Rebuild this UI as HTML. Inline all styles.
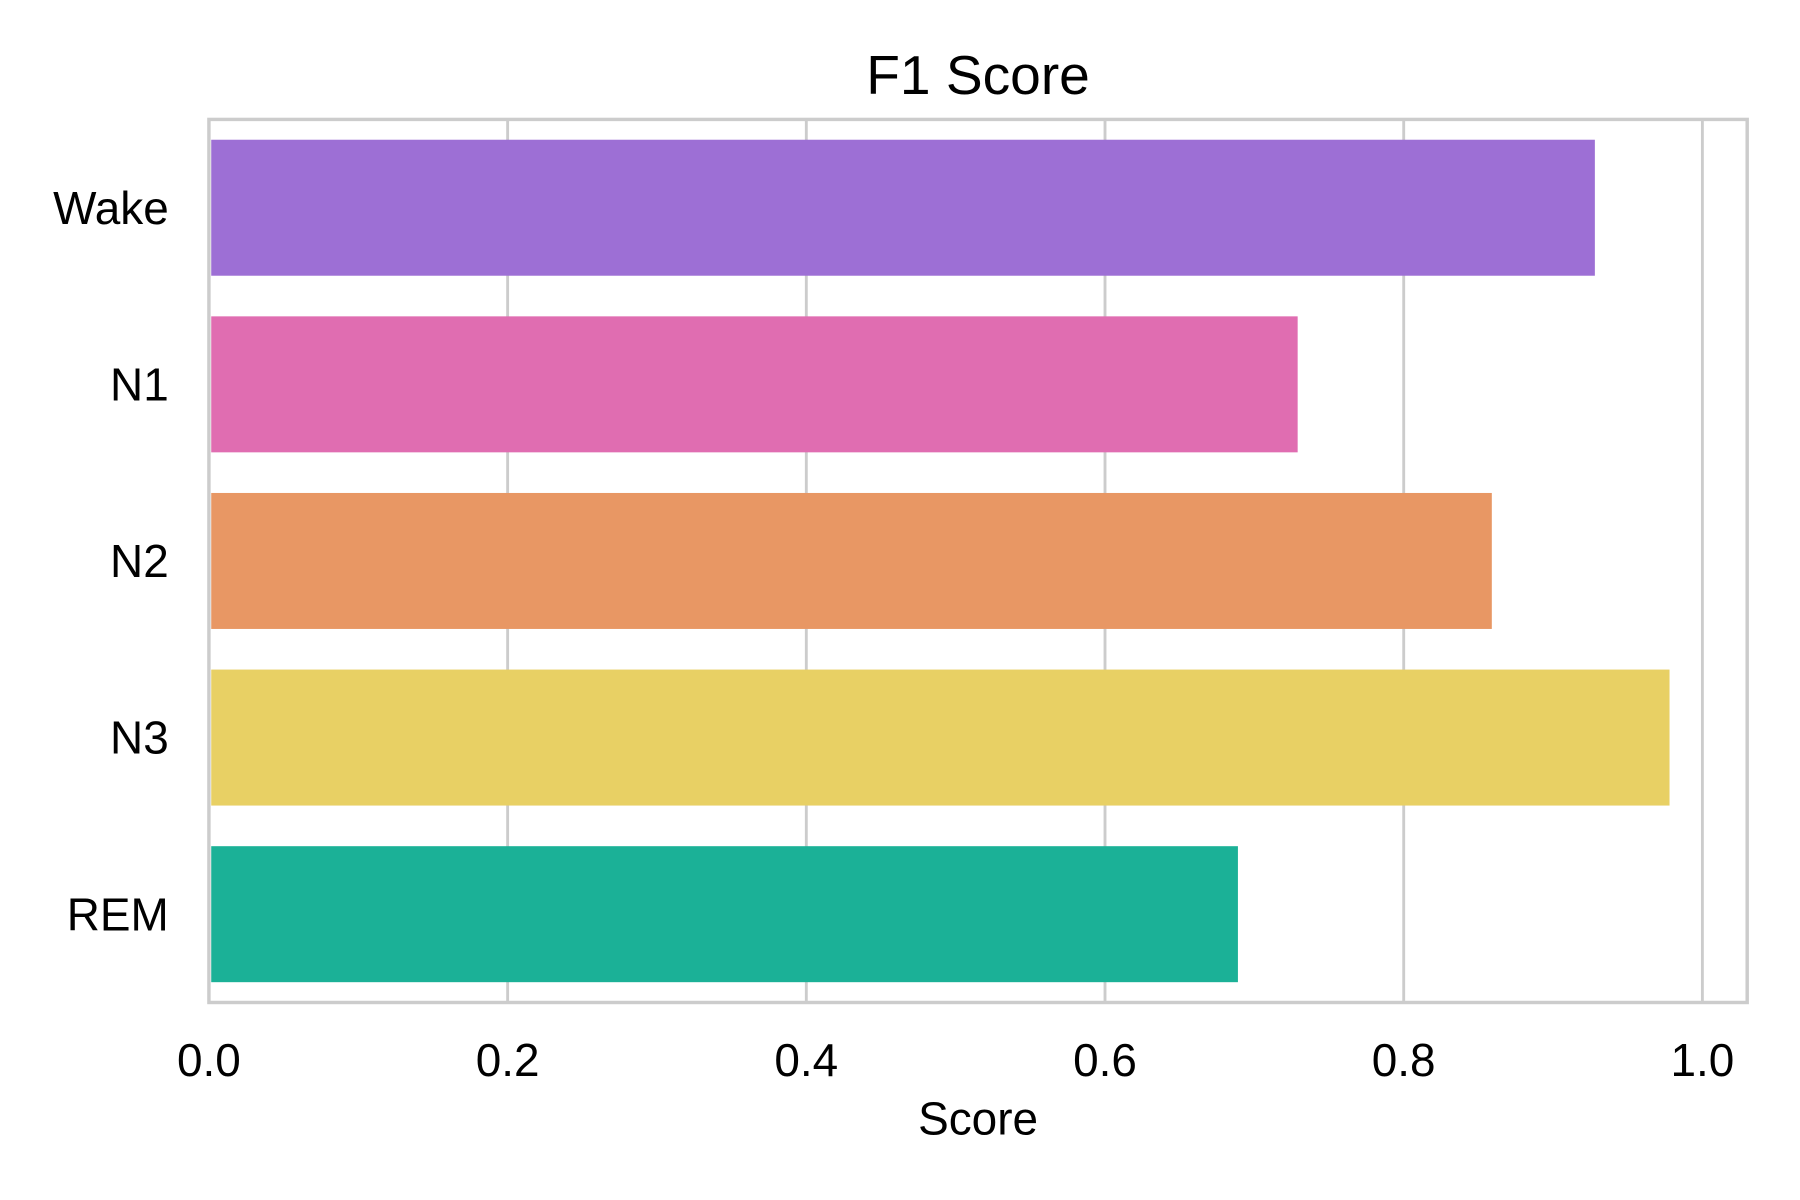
<!DOCTYPE html>
<html><head><meta charset="utf-8"><style>
html,body{margin:0;padding:0;background:#fff;}
svg{display:block;font-family:"Liberation Sans",Arial,sans-serif;}
</style></head><body>
<svg id="chart" width="1800" height="1200" viewBox="0 0 1568 1045" preserveAspectRatio="none" xmlns="http://www.w3.org/2000/svg">
<rect width="1568" height="1045" fill="#fff"/>
<g id="grid"></g>
<g id="bars"></g>
<rect x="182" y="104" width="1340" height="769" fill="none" stroke="#cccccc" stroke-width="3"/>
<g id="labels" font-size="40" fill="#000"></g>
<text x="852" y="82" font-size="48" text-anchor="middle">F1 Score</text>
<text x="852" y="988" font-size="40" text-anchor="middle">Score</text>
</svg>
<script>
const categories = ["Wake","N1","N2","N3","REM"];
const scores = [0.928, 0.729, 0.859, 0.978, 0.689];
const barColors = ["#9d6fd5","#e06db1","#e89764","#e8d064","#1bb197"];
const xTicks = [0, 0.2, 0.4, 0.6, 0.8, 1.0];
const xTickLabels = ["0.0","0.2","0.4","0.6","0.8","1.0"];

const NS = "http://www.w3.org/2000/svg";
const pLeft = 182, pRight = 1522, pTop = 104, pBottom = 873;
const xMax = 1.03;
const xs = v => pLeft + v / xMax * (pRight - pLeft);
const band = (pBottom - pTop) / categories.length;
const yc = i => pTop + band * (i + 0.5);

const grid = document.getElementById('grid');
xTicks.forEach(function (t) {
  const l = document.createElementNS(NS, 'line');
  
  
  l.setAttribute('x1', xs(t)); l.setAttribute('x2', xs(t));
  l.setAttribute('y1', pTop); l.setAttribute('y2', pBottom);
  l.setAttribute('stroke', '#cccccc'); l.setAttribute('stroke-width', '2.5');
  grid.appendChild(l);
});

const bars = document.getElementById('bars');
categories.forEach(function (c, i) {
  const r = document.createElementNS(NS, 'rect');
  
  
  const h = band * 0.77;
  r.setAttribute('x', xs(0) + 2);
  r.setAttribute('y', yc(i) - h / 2);
  r.setAttribute('width', xs(scores[i]) - xs(0) - 2);
  r.setAttribute('height', h);
  r.setAttribute('fill', barColors[i]);
  bars.appendChild(r);
});

const labels = document.getElementById('labels');
categories.forEach(function (c, i) {
  const t = document.createElementNS(NS, 'text');
  
  
  t.setAttribute('x', 147); t.setAttribute('y', yc(i) + 14);
  t.setAttribute('text-anchor', 'end');
  t.textContent = c;
  labels.appendChild(t);
});
xTicks.forEach(function (v, i) {
  const t = document.createElementNS(NS, 'text');
  
  
  t.setAttribute('x', xs(v)); t.setAttribute('y', 937);
  t.setAttribute('text-anchor', 'middle');
  t.textContent = xTickLabels[i];
  labels.appendChild(t);
});
</script>
</body></html>
